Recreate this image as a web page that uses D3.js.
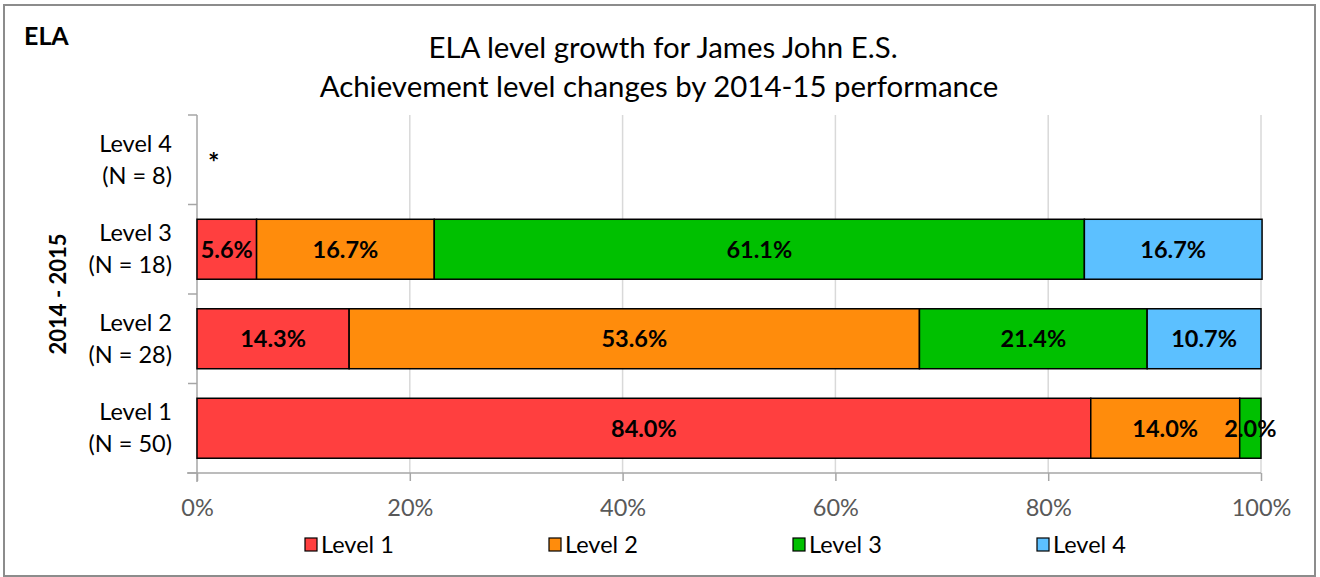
<!DOCTYPE html>
<html><head><meta charset="utf-8">
<script src="https://cdn.jsdelivr.net/npm/d3@7"></script>
<style>body{margin:0;background:#fff;} svg{display:block;font-family:Lato,'Open Sans',sans-serif;}</style>
</head><body>
<svg id="c" width="1320" height="577"></svg>
<script>
const categories = ["Level 4", "Level 3", "Level 2", "Level 1"];
const categoryN = [8, 18, 28, 50];
const seriesNames = ["Level 1", "Level 2", "Level 3", "Level 4"];
const level1Values = [null, 5.6, 14.3, 84.0];
const level2Values = [null, 16.7, 53.6, 14.0];
const level3Values = [null, 61.1, 21.4, 2.0];
const level4Values = [null, 16.7, 10.7, 0];
const suppressed = ["*", null, null, null];
const xTicks = [0, 20, 40, 60, 80, 100];
const colors = ["#ff3f3f", "#ff8c0c", "#00c000", "#5cc0ff"];

const svg = d3.select("#c");
const m = {left:197, right:1261, top:115, bottom:473};
const FS = 23.5;

svg.append("rect").attr("x",4).attr("y",5).attr("width",1311).attr("height",571)
  .attr("fill","#fff").attr("stroke","#8c8c8c").attr("stroke-width",2);

const x = d3.scaleLinear().domain([0,100]).range([m.left, m.right]);
const y = d3.scaleBand().domain(categories).range([m.top, m.bottom]).paddingInner(0.33).paddingOuter(0.165);
const yb = d3.scaleBand().domain(categories).range([m.top, m.bottom]);

// gridlines
svg.append("g").selectAll("line").data(xTicks.slice(1)).join("line")
  .attr("x1",d=>x(d)).attr("x2",d=>x(d)).attr("y1",m.top).attr("y2",m.bottom)
  .attr("stroke","#d9d9d9").attr("stroke-width",1.5);

// x axis
const xAxis = svg.append("g").attr("transform",`translate(0,${m.bottom})`)
  .call(d3.axisBottom(x).tickValues(xTicks).tickFormat(d=>d+"%").tickSize(8).tickPadding(18));
xAxis.select(".domain").attr("stroke","#a6a6a6").attr("stroke-width",1.5).attr("d",`M${m.left-10},0H${m.right}`);
xAxis.selectAll(".tick line").attr("stroke","#a6a6a6").attr("stroke-width",1.5);
xAxis.selectAll("text").attr("fill","#595959").attr("font-size",FS).style("font-family","Lato,'Open Sans',sans-serif");

// y axis
const yAxisG = svg.append("g");
yAxisG.append("line").attr("x1",m.left).attr("x2",m.left).attr("y1",m.top).attr("y2",m.bottom+9)
  .attr("stroke","#a6a6a6").attr("stroke-width",1.5);
const yTickPos = categories.map(c=>yb(c)).concat([m.bottom]);
yAxisG.selectAll(".yt").data(yTickPos).join("line").attr("class","yt")
  .attr("x1",m.left-9).attr("x2",m.left).attr("y1",d=>d).attr("y2",d=>d)
  .attr("stroke","#a6a6a6").attr("stroke-width",1.5);

const catLabels = svg.append("g").selectAll("g").data(categories).join("g")
  .attr("transform",d=>`translate(172,${yb(d)+yb.bandwidth()/2})`);
catLabels.append("text").attr("text-anchor","end").attr("font-size",FS).attr("y",-8).text(d=>d);
catLabels.append("text").attr("text-anchor","end").attr("font-size",FS).attr("y",24).text((d,i)=>`(N = ${categoryN[i]})`);

svg.append("text").attr("transform",`translate(66,${(m.top+m.bottom)/2}) rotate(-90)`)
  .attr("text-anchor","middle").attr("font-size",22).attr("font-weight","bold").text("2014 - 2015");

// bars
const allSeries = [level1Values, level2Values, level3Values, level4Values];
const rows = categories.map((c,i)=>{
  const o = {cat:c};
  seriesNames.forEach((s,j)=>o[s]=allSeries[j][i]||0);
  return o;
});
const stack = d3.stack().keys(seriesNames)(rows);
const gBars = svg.append("g");
stack.forEach((layer,j)=>{
  const g = gBars.append("g");
  layer.forEach(d=>{
    const v = d[1]-d[0];
    if (v<=0) return;
    g.append("rect").attr("x",x(d[0])).attr("y",y(d.data.cat)).attr("width",x(d[1])-x(d[0])).attr("height",y.bandwidth())
      .attr("fill",colors[j]).attr("stroke","#000").attr("stroke-width",1.5);
  });
});
stack.forEach((layer,j)=>{
  layer.forEach(d=>{
    const v = d[1]-d[0];
    if (v<=0) return;
    svg.append("text").attr("x",(x(d[0])+x(d[1]))/2).attr("y",y(d.data.cat)+y.bandwidth()/2)
      .attr("dy","0.36em").attr("text-anchor","middle").attr("font-size",FS).attr("font-weight","bold")
      .text(v.toFixed(1)+"%");
  });
});
categories.forEach((c,i)=>{
  if (suppressed[i]) svg.append("text").attr("x",x(0)+11).attr("y",yb(c)+yb.bandwidth()/2+12)
    .attr("font-size",27).attr("font-weight","bold").text(suppressed[i]);
});

// titles
svg.append("text").attr("x",24).attr("y",45).attr("font-size",25).attr("font-weight","bold").text("ELA");
svg.append("text").attr("x",663).attr("y",58).attr("text-anchor","middle").attr("font-size",29.4).text("ELA level growth for James John E.S.");
svg.append("text").attr("x",659).attr("y",97).attr("text-anchor","middle").attr("font-size",29.4).text("Achievement level changes by 2014-15 performance");

// legend
const leg = svg.append("g").selectAll("g").data(seriesNames).join("g")
  .attr("transform",(d,i)=>`translate(${305+i*244},538)`);
leg.append("rect").attr("width",12).attr("height",13).attr("fill",(d,i)=>colors[i]).attr("stroke","#000").attr("stroke-width",1.2);
leg.append("text").attr("x",16).attr("y",7).attr("dy","0.36em").attr("font-size",FS).text(d=>d);
</script>
</body></html>
